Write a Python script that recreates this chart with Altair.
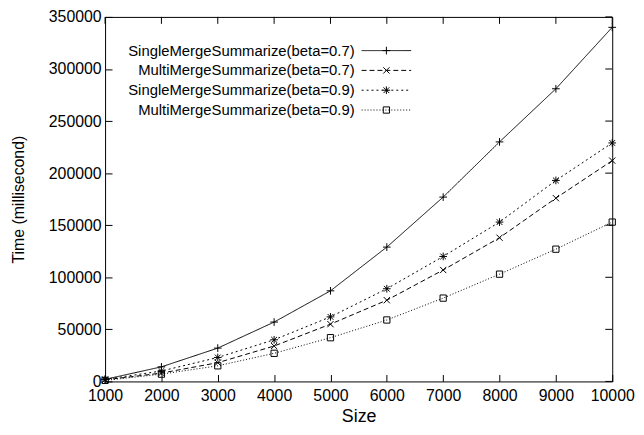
import altair as alt
import pandas as pd

sizes = [1000, 2000, 3000, 4000, 5000, 6000, 7000, 8000, 9000, 10000]
single_07 = [2000, 14000, 32000, 57000, 87000, 129000, 177000, 230000, 281000, 340000]
multi_07 = [1500, 8000, 18000, 34000, 55000, 78000, 107000, 138000, 176000, 212000]
single_09 = [2000, 10000, 23000, 40000, 62000, 89000, 120000, 153000, 193000, 229000]
multi_09 = [1000, 7000, 15000, 27000, 42000, 59000, 80000, 103000, 127000, 153000]
series_names = [
    "SingleMergeSummarize(beta=0.7)",
    "MultiMergeSummarize(beta=0.7)",
    "SingleMergeSummarize(beta=0.9)",
    "MultiMergeSummarize(beta=0.9)",
]
x_ticks = sizes
y_ticks = [0, 50000, 100000, 150000, 200000, 250000, 300000, 350000]

FONT = "Liberation Sans"
W, H = 512, 368
TICK = 7

PLUS = "M-1,0H1M0,-1V1"
CROSS = "M-1,-1L1,1M-1,1L1,-1"
STAR = "M-1,0H1M0,-1V1M-0.75,-0.75L0.75,0.75M-0.75,0.75L0.75,-0.75"
styles = [
    dict(dash=[1, 0], shape=PLUS, size=60),
    dict(dash=[5, 3], shape=CROSS, size=40),
    dict(dash=[2, 3], shape=STAR, size=60),
    dict(dash=[1, 2], shape="square", size=40),
]
values = [single_07, multi_07, single_09, multi_09]

xs = alt.Scale(domain=[1000, 10000], nice=False, zero=False)
ys = alt.Scale(domain=[0, 350000], nice=False)

x_axis = alt.Axis(values=x_ticks, format="d", title="Size", offset=-TICK, tickSize=TICK,
                  domain=False, grid=False, labelPadding=6, labelFont=FONT,
                  labelFontSize=16, titleFont=FONT, titleFontSize=18,
                  titleFontWeight="normal", titlePadding=4, labelColor="black",
                  titleColor="black", tickColor="black", labelFlush=False)
y_axis = alt.Axis(values=y_ticks, format="d", title="Time (millisecond)", offset=-TICK,
                  tickSize=TICK, domain=False, grid=False, labelPadding=4,
                  labelFont=FONT, labelFontSize=16, titleFont=FONT,
                  titleFontSize=16, titleFontWeight="normal", titlePadding=22,
                  labelColor="black", titleColor="black", tickColor="black",
                  labelFlush=False)

layers = []
for i, (name, vals, st) in enumerate(zip(series_names, values, styles)):
    df = pd.DataFrame({"size": sizes, "time": vals, "series": name})
    base = alt.Chart(df).encode(
        x=alt.X("size:Q", scale=xs, axis=x_axis),
        y=alt.Y("time:Q", scale=ys, axis=y_axis),
    )
    layers.append(base.mark_line(color="black", strokeWidth=1, strokeDash=st["dash"]))
    layers.append(base.mark_point(shape=st["shape"], filled=False, color="black",
                                  strokeWidth=1, size=st["size"], opacity=1))

# mirrored inward ticks on top and right (gnuplot style)
xt_df = pd.DataFrame({"size": x_ticks})
layers.append(alt.Chart(xt_df).mark_rule(color="black", strokeWidth=1).encode(
    x=alt.X("size:Q", scale=xs, axis=x_axis),
    y=alt.value(0), y2=alt.value(TICK),
))
yt_df = pd.DataFrame({"time": y_ticks})
layers.append(alt.Chart(yt_df).mark_rule(color="black", strokeWidth=1).encode(
    y=alt.Y("time:Q", scale=ys, axis=y_axis),
    x=alt.value(W - TICK), x2=alt.value(W),
))

# legend (gnuplot style: label left, sample right)
leg_text_x = 252
leg_s0, leg_s1 = 259, 309
leg_y0, leg_dy = 34, 20
for i, (name, st) in enumerate(zip(series_names, styles)):
    ly = leg_y0 + i * leg_dy
    ldf = pd.DataFrame({"label": [name]})
    lc = alt.Chart(ldf)
    layers.append(lc.mark_text(align="right", baseline="middle", font=FONT, fontSize=15,
                               color="black").encode(
        text="label:N", x=alt.value(leg_text_x), y=alt.value(ly)))
    layers.append(lc.mark_rule(color="black", strokeWidth=1, strokeDash=st["dash"]).encode(
        x=alt.value(leg_s0), x2=alt.value(leg_s1), y=alt.value(ly)))
    layers.append(lc.mark_point(shape=st["shape"], filled=False, color="black",
                                strokeWidth=1, size=st["size"], opacity=1).encode(
        x=alt.value((leg_s0 + leg_s1) / 2), y=alt.value(ly)))

chart = alt.layer(*layers).properties(
    width=W, height=H,
    padding={"left": 98, "top": 7, "right": 24, "bottom": 44},
    autosize=alt.AutoSizeParams(type="none"),
).configure_view(stroke="black", strokeWidth=1)

chart.save("out.html", embed_options={"renderer": "svg", "actions": False})
